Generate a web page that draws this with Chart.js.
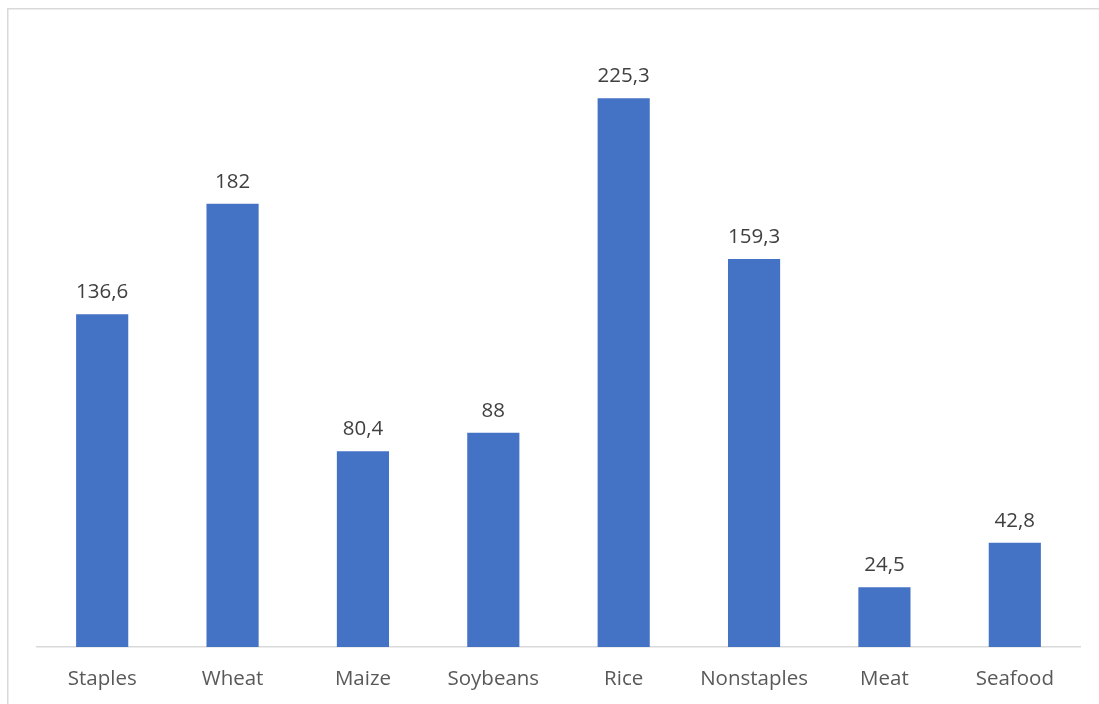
<!DOCTYPE html>
<html>
<head>
<meta charset="utf-8">
<script src="https://cdn.jsdelivr.net/npm/chart.js@4"></script>
<style>
html,body{margin:0;padding:0;background:#fff;overflow:hidden;}
#wrap{position:absolute;left:0;top:0;width:1099px;height:704px;}
</style>
</head>
<body>
<div id="wrap"><canvas id="c" width="1099" height="704"></canvas></div>
<script>
const categories = ["Staples","Wheat","Maize","Soybeans","Rice","Nonstaples","Meat","Seafood"];
const values = [136.6, 182, 80.4, 88, 225.3, 159.3, 24.5, 42.8];
const yMin = 0;
const yMax = 250;

const FONT = "'Open Sans', 'Liberation Sans', sans-serif";

const framePlugin = {
  id: 'frame',
  beforeDraw(chart) {
    const ctx = chart.ctx;
    ctx.save();
    ctx.fillStyle = '#ffffff';
    ctx.fillRect(0, 0, chart.width, chart.height);
    ctx.strokeStyle = '#d9d9d9';
    ctx.lineWidth = 1.5;
    ctx.strokeRect(7.75, 8.75, 1200, 1000);
    ctx.restore();
  }
};

const labelPlugin = {
  id: 'valueLabels',
  afterDatasetsDraw(chart) {
    const ctx = chart.ctx;
    const meta = chart.getDatasetMeta(0);
    ctx.save();
    ctx.fillStyle = '#404040';
    ctx.font = "20.5px " + FONT;
    ctx.textAlign = 'center';
    ctx.textBaseline = 'alphabetic';
    meta.data.forEach((bar, i) => {
      const txt = String(values[i]).replace('.', ',');
      ctx.fillText(txt, bar.x, bar.y - 16);
    });
    ctx.restore();
  }
};

new Chart(document.getElementById('c'), {
  type: 'bar',
  data: {
    labels: categories,
    datasets: [{
      data: values,
      backgroundColor: '#4472C4',
      borderWidth: 0,
      categoryPercentage: 1,
      barPercentage: 0.4
    }]
  },
  options: {
    responsive: false,
    animation: false,
    devicePixelRatio: 1,
    layout: { padding: { left: 37, right: 19, top: 38, bottom: 0 } },
    plugins: { legend: { display: false }, tooltip: { enabled: false } },
    scales: {
      x: {
        grid: { display: false, drawTicks: false },
        border: { display: true, color: '#d9d9d9', width: 1.5 },
        ticks: { color: '#595959', font: { family: FONT, size: 20.5 }, padding: 20, maxRotation: 0, autoSkip: false },
        afterFit(scale) { scale.height = 57; }
      },
      y: {
        display: false,
        min: yMin,
        max: yMax
      }
    }
  },
  plugins: [framePlugin, labelPlugin]
});
</script>
</body>
</html>
